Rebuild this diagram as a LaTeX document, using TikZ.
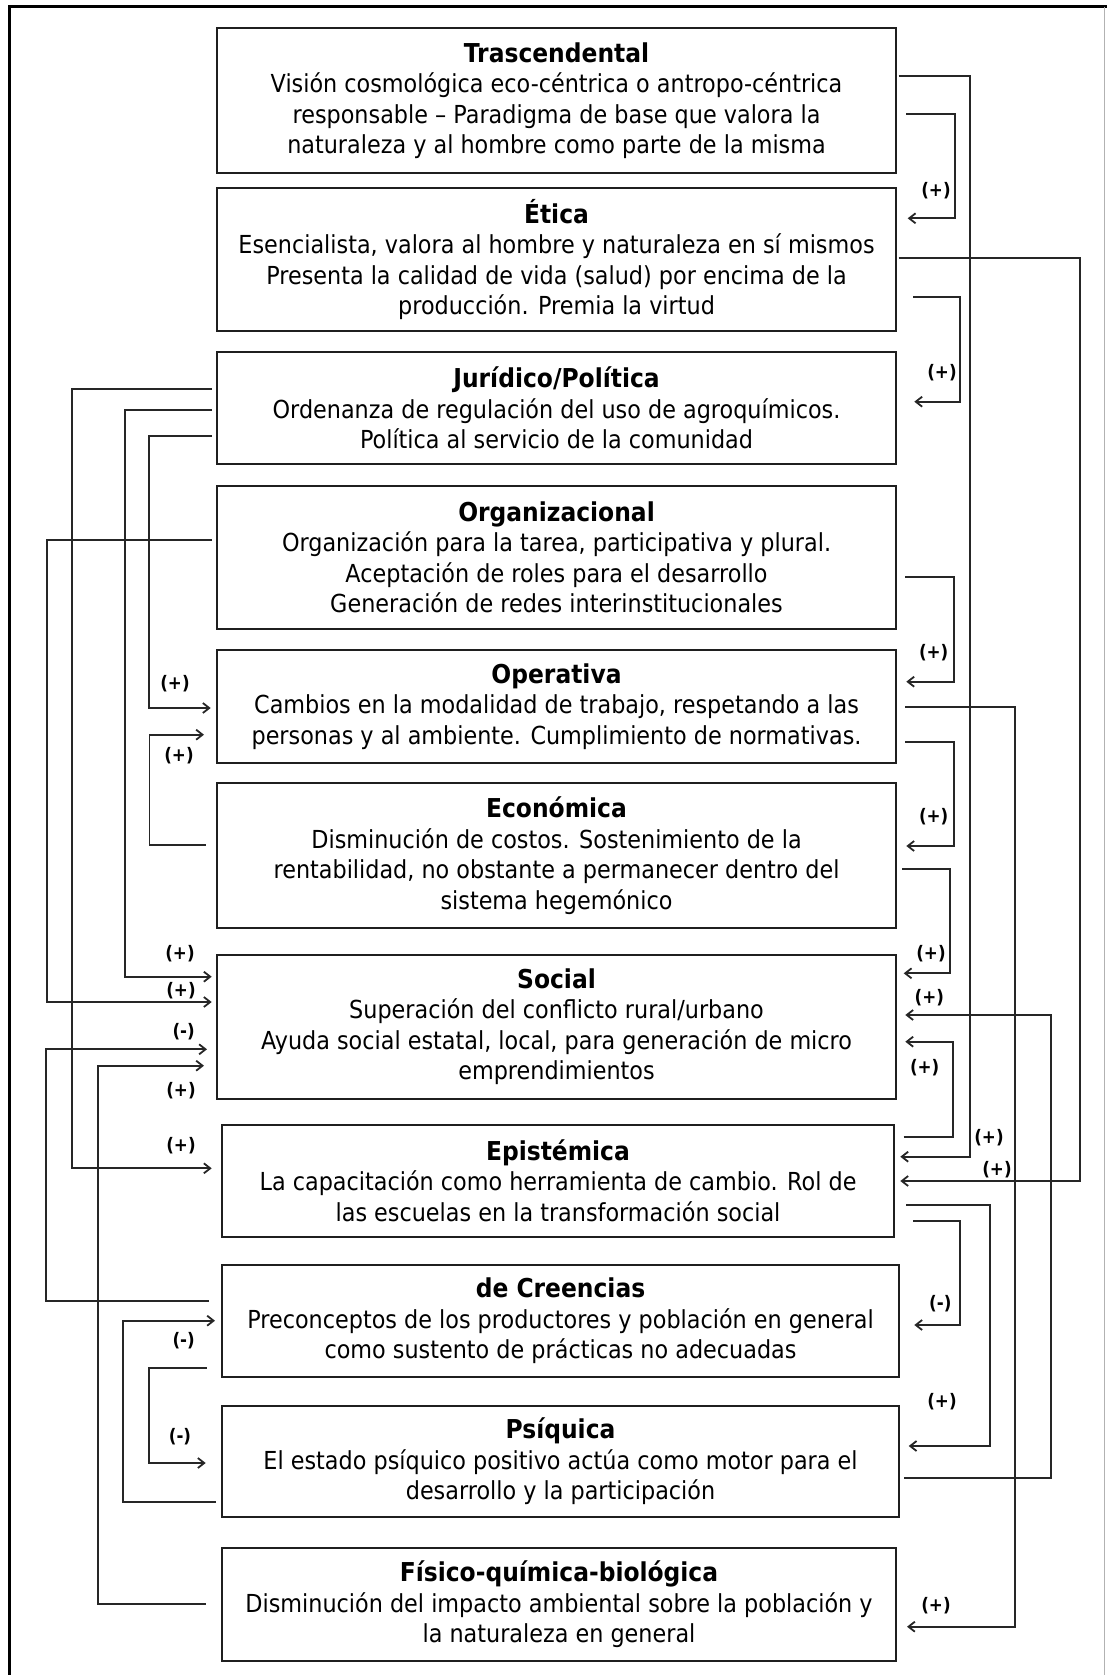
\documentclass[tikz,border=0pt]{standalone}
\usepackage{fontspec}
\setmainfont{DejaVu Sans}[FakeStretch=0.9]
\usetikzlibrary{arrows.meta,calc}
\newcommand\ttl[1]{{\fontsize{13}{15.2}\selectfont\bfseries #1}}
\begin{document}
\begin{tikzpicture}[x=0.5pt,y=-0.5pt,
  box/.style={draw=black!88, line width=1pt, inner sep=0pt, outer sep=0pt, align=center,
    font=\fontsize{12.4}{15.2}\selectfont},
  conn/.style={draw=black!85, line width=0.9pt, -{Straight Barb[length=3.2pt,width=5pt]}},
  lab/.style={font=\fontsize{9.3}{10}\selectfont\bfseries, inner sep=0pt}]
\useasboundingbox (0,0) rectangle (1107,1675);
% frame
\draw[line width=1.5pt] (9,1675) -- (9,6.7) -- (1107,6.7);
\draw[black!30, line width=0.4pt] (1104,6.7) -- (1104,1675);
% boxes
\node[box, minimum width=339.5pt, minimum height=72.5pt] (tra) at (556.5,100.8)
  {\ttl{Trascendental}\\Visión cosmológica eco-céntrica o antropo-céntrica\\responsable – Paradigma de base que valora la\\naturaleza y al hombre como parte de la misma};
\node[box, minimum width=339.5pt, minimum height=71.65pt] (eti) at (556.5,259.35)
  {\ttl{Ética}\\Esencialista, valora al hombre y naturaleza en sí mismos\\Presenta la calidad de vida (salud) por encima de la\\producción. Premia la virtud};
\node[box, minimum width=339.5pt, minimum height=56.3pt] (jur) at (556.5,408)
  {\ttl{Jurídico/Política}\\Ordenanza de regulación del uso de agroquímicos.\\Política al servicio de la comunidad};
\node[box, minimum width=339.5pt, minimum height=71.65pt] (org) at (556.5,557.35)
  {\ttl{Organizacional}\\Organización para la tarea, participativa y plural.\\Aceptación de roles para el desarrollo\\Generación de redes interinstitucionales};
\node[box, minimum width=339.5pt, minimum height=56.35pt] (ope) at (556.5,706.35)
  {\ttl{Operativa}\\Cambios en la modalidad de trabajo, respetando a las\\personas y al ambiente. Cumplimiento de normativas.};
\node[box, minimum width=339.5pt, minimum height=72.35pt] (eco) at (556.5,855.65)
  {\ttl{Económica}\\Disminución de costos. Sostenimiento de la\\rentabilidad, no obstante a permanecer dentro del\\sistema hegemónico};
\node[box, minimum width=339.5pt, minimum height=72.25pt] (soc) at (556.5,1026.75)
  {\ttl{Social}\\Superación del conflicto rural/urbano\\Ayuda social estatal, local, para generación de micro\\emprendimientos};
\node[box, minimum width=336.3pt, minimum height=56.25pt] (epi) at (558,1180.75)
  {\ttl{Epistémica}\\La capacitación como herramienta de cambio. Rol de\\las escuelas en la transformación social};
\node[box, minimum width=338.8pt, minimum height=56.25pt] (cre) at (560.5,1320.75)
  {\ttl{de Creencias}\\Preconceptos de los productores y población en general\\como sustento de prácticas no adecuadas};
\node[box, minimum width=338.8pt, minimum height=55.65pt] (psi) at (560.5,1461.35)
  {\ttl{Psíquica}\\El estado psíquico positivo actúa como motor para el\\desarrollo y la participación};
\node[box, minimum width=337pt, minimum height=56.5pt] (fis) at (559,1604.5)
  {\ttl{Físico-química-biológica}\\Disminución del impacto ambiental sobre la población y\\la naturaleza en general};
% right-side connectors
\draw[conn] ($(tra.east|-0,76.3)+(2.7,0)$) -| (969.7,1156.7) -- ($(epi.east|-0,1156.7)+(6,0)$);
\draw[conn] ($(tra.east|-0,113.7)+(10.3,0)$) -| (955.3,218.3) -- ($(eti.east|-0,218.3)+(11.7,0)$);
\draw[conn] ($(eti.east|-0,258)+(2.7,0)$) -| (1079.7,1181) -- ($(epi.east|-0,1181)+(6,0)$);
\draw[conn] ($(eti.east|-0,296.7)+(17,0)$) -| (960.3,401.7) -- ($(jur.east|-0,401.7)+(18.3,0)$);
\draw[conn] ($(org.east|-0,576.7)+(9.3,0)$) -| (953.7,681.7) -- ($(ope.east|-0,681.7)+(10.3,0)$);
\draw[conn] ($(ope.east|-0,707.3)+(9.3,0)$) -| (1014.7,1626.7) -- ($(fis.east|-0,1626.7)+(11,0)$);
\draw[conn] ($(ope.east|-0,741.7)+(9.3,0)$) -| (953.7,846) -- ($(eco.east|-0,846)+(10.3,0)$);
\draw[conn] ($(eco.east|-0,869)+(6,0)$) -| (950.3,973.3) -- ($(soc.east|-0,973.3)+(7.7,0)$);
\draw[conn] ($(psi.east|-0,1478.3)+(5,0)$) -| (1051,1015) -- ($(soc.east|-0,1015)+(9.3,0)$);
\draw[conn] ($(epi.east|-0,1137.3)+(9.4,0)$) -| (952.7,1041.7) -- ($(soc.east|-0,1041.7)+(9.3,0)$);
\draw[conn] ($(epi.east|-0,1205)+(12,0)$) -| (990.3,1446) -- ($(psi.east|-0,1446)+(9.4,0)$);
\draw[conn] ($(epi.east|-0,1221)+(18.7,0)$) -| (960.3,1325) -- ($(cre.east|-0,1325)+(15,0)$);
% left-side connectors
\draw[conn] ($(jur.west|-0,389.3)+(-5,0)$) -| (71.7,1168.3) -- ($(epi.west|-0,1168.3)+(-10,0)$);
\draw[conn] ($(jur.west|-0,410)+(-5,0)$) -| (125,976.7) -- ($(soc.west|-0,976.7)+(-5.3,0)$);
\draw[conn] ($(jur.west|-0,435.7)+(-5,0)$) -| (149,708) -- ($(ope.west|-0,708)+(-6.3,0)$);
\draw[conn] ($(org.west|-0,540.3)+(-5,0)$) -| (47.3,1002) -- ($(soc.west|-0,1002)+(-5.3,0)$);
\draw[conn] ($(eco.west|-0,845.3)+(-11.3,0)$) -| (149.5,734.7) -- ($(ope.west|-0,734.7)+(-13,0)$);
\draw[conn] ($(cre.west|-0,1301.3)+(-12.7,0)$) -| (46,1049.3) -- ($(soc.west|-0,1049.3)+(-10,0)$);
\draw[conn] ($(fis.west|-0,1604)+(-16.3,0)$) -| (97.7,1065.7) -- ($(soc.west|-0,1065.7)+(-13,0)$);
\draw[conn] ($(psi.west|-0,1501.7)+(-5.7,0)$) -| (123.3,1320.7) -- ($(cre.west|-0,1320.7)+(-6.7,0)$);
\draw[conn] ($(cre.west|-0,1368.3)+(-15,0)$) -| (149,1463) -- ($(psi.west|-0,1463)+(-16,0)$);
% labels right
\node[lab] (lb) at (936,191) {(+)};
\node[lab] (ld) at (942,372.7) {(+)};
\node[lab] (le) at (933.7,652.7) {(+)};
\node[lab] (lg) at (933.7,816.7) {(+)};
\node[lab] (lh) at (931,954) {(+)};
\node[lab] (lk) at (929.3,997.3) {(+)};
\node[lab] (ll) at (924.7,1067.3) {(+)};
\node[lab] (la) at (989,1137.3) {(+)};
\node[lab] (lc) at (997,1170) {(+)};
\node[lab] (lj) at (940.3,1303.3) {(-)};
\node[lab] (li) at (942,1401.7) {(+)};
\node[lab] (lf) at (936,1605.7) {(+)};
% labels left
\node[lab] (lo) at (175,683.3) {(+)};
\node[lab] (lq) at (179,756) {(+)};
\node[lab] (ln) at (180,954) {(+)};
\node[lab] (lp) at (181,990.7) {(+)};
\node[lab] (lr) at (183.7,1031.7) {(-)};
\node[lab] (ls) at (181,1091) {(+)};
\node[lab] (lm) at (181,1145.7) {(+)};
\node[lab] (lt) at (183.7,1340.7) {(-)};
\node[lab] (lu) at (180,1436.7) {(-)};
\end{tikzpicture}
\end{document}
